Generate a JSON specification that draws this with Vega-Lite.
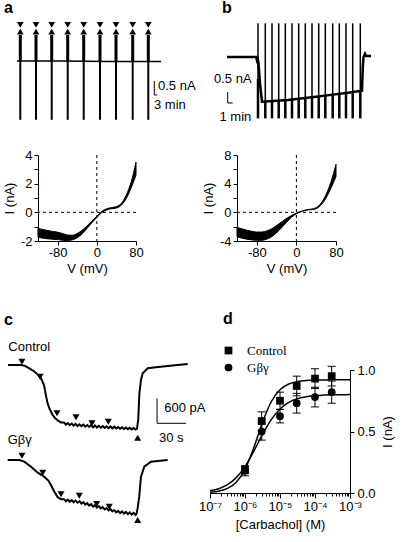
{
"$schema": "https://vega.github.io/schema/vega-lite/v6.json",
"background": "white",
"padding": {"left": 3, "top": 0, "right": 2, "bottom": 2},
"config": {
  "view": {"stroke": null},
  "font": "Liberation Sans",
  "title": {"font": "Liberation Sans", "fontSize": 16, "fontWeight": "bold", "anchor": "start", "color": "black", "frame": "group"},
  "axis": {"labelFont": "Liberation Sans", "labelFontSize": 13, "labelColor": "black", "titleFont": "Liberation Sans", "titleFontSize": 13, "titleFontWeight": "normal", "titleColor": "black", "domainColor": "black", "tickColor": "black", "grid": false, "tickSize": 4},
  "text": {"font": "Liberation Sans", "color": "black"}
},
"datasets": {
  "aBase": [{"t": 1, "I": 0}, {"t": 50, "I": 0}, {"t": 90, "I": -0.02}, {"t": 145, "I": -0.02}],
  "aSpikes": [
    {"t": 4.3, "hi": 0.93, "lo": -2.1, "mkDown": 1.29, "mkUp": 1.05},
    {"t": 20, "hi": 0.93, "lo": -2.1, "mkDown": 1.29, "mkUp": 1.05},
    {"t": 35.7, "hi": 0.93, "lo": -2.1, "mkDown": 1.29, "mkUp": 1.05},
    {"t": 51.7, "hi": 0.93, "lo": -2.1, "mkDown": 1.29, "mkUp": 1.05},
    {"t": 67.7, "hi": 0.93, "lo": -2.1, "mkDown": 1.29, "mkUp": 1.05},
    {"t": 84, "hi": 0.93, "lo": -2.1, "mkDown": 1.29, "mkUp": 1.05},
    {"t": 100, "hi": 0.93, "lo": -2.1, "mkDown": 1.29, "mkUp": 1.05},
    {"t": 116.7, "hi": 0.93, "lo": -2.1, "mkDown": 1.29, "mkUp": 1.05},
    {"t": 132.3, "hi": 0.93, "lo": -2.1, "mkDown": 1.29, "mkUp": 1.05}
  ],
  "aBar": [{"t": 138.3, "t2": 138.3, "I": -0.714, "I2": -1.214}, {"t": 138.3, "t2": 141.3, "I": -1.214, "I2": -1.214}],
  "aText": [{"t": 142, "I": -0.9, "label": "0.5 nA"}, {"t": 138, "I": -1.56, "label": "3 min"}],
  "bTrace": [
    {"t": 2.8, "I": 0}, {"t": 8.6, "I": 0}, {"t": 8.75, "I": -0.12}, {"t": 8.9, "I": 0}, {"t": 9.1, "I": -0.3},
    {"t": 9.4, "I": -1.2}, {"t": 9.8, "I": -2.03}, {"t": 12, "I": -2.0}, {"t": 15, "I": -1.95}, {"t": 18, "I": -1.88},
    {"t": 21, "I": -1.8}, {"t": 24, "I": -1.71}, {"t": 27, "I": -1.62}, {"t": 29.8, "I": -1.53}, {"t": 29.95, "I": -0.5},
    {"t": 30.1, "I": 0}, {"t": 30.4, "I": 0.15}, {"t": 30.6, "I": 0.05}, {"t": 31.6, "I": 0.05}
  ],
  "bSpikes": [
    {"t": 9.0, "base": -1.0, "hi": 1.53, "lo": -2.79},
    {"t": 10.46, "base": -2.0, "hi": 1.53, "lo": -2.79},
    {"t": 11.8, "base": -2.0, "hi": 1.53, "lo": -2.79},
    {"t": 13.14, "base": -1.98, "hi": 1.53, "lo": -2.79},
    {"t": 14.46, "base": -1.96, "hi": 1.53, "lo": -2.79},
    {"t": 15.8, "base": -1.93, "hi": 1.53, "lo": -2.79},
    {"t": 17.14, "base": -1.9, "hi": 1.53, "lo": -2.79},
    {"t": 18.46, "base": -1.87, "hi": 1.53, "lo": -2.79},
    {"t": 19.8, "base": -1.83, "hi": 1.53, "lo": -2.79},
    {"t": 21.14, "base": -1.8, "hi": 1.53, "lo": -2.79},
    {"t": 22.46, "base": -1.76, "hi": 1.53, "lo": -2.79},
    {"t": 23.94, "base": -1.72, "hi": 1.53, "lo": -2.79},
    {"t": 25.26, "base": -1.67, "hi": 1.53, "lo": -2.79},
    {"t": 26.6, "base": -1.63, "hi": 1.53, "lo": -2.79},
    {"t": 27.94, "base": -1.59, "hi": 1.53, "lo": -2.79},
    {"t": 29.46, "base": -1.54, "hi": 1.53, "lo": -2.79}
  ],
  "bBar": [{"t": 2.94, "t2": 2.94, "I": -1.59, "I2": -2.09}, {"t": 2.94, "t2": 3.94, "I": -2.09, "I2": -2.09}],
  "bText": [{"t": 3.96, "I": -1.02, "label": "0.5 nA"}, {"t": 4.47, "I": -2.71, "label": "1 min"}],
  "ivA": [
    {"V": -120, "lo": -1.75, "hi": -1.12}, {"V": -110, "lo": -1.8, "hi": -1.2}, {"V": -100, "lo": -1.85, "hi": -1.27},
    {"V": -90, "lo": -1.88, "hi": -1.33}, {"V": -80, "lo": -1.9, "hi": -1.38}, {"V": -70, "lo": -1.95, "hi": -1.48},
    {"V": -60, "lo": -1.97, "hi": -1.58}, {"V": -50, "lo": -1.92, "hi": -1.6}, {"V": -40, "lo": -1.78, "hi": -1.48},
    {"V": -30, "lo": -1.5, "hi": -1.25}, {"V": -20, "lo": -1.12, "hi": -0.95}, {"V": -10, "lo": -0.72, "hi": -0.6},
    {"V": 0, "lo": -0.36, "hi": -0.28}, {"V": 10, "lo": -0.02, "hi": 0.06}, {"V": 20, "lo": 0.17, "hi": 0.25},
    {"V": 30, "lo": 0.25, "hi": 0.33}, {"V": 40, "lo": 0.3, "hi": 0.4}, {"V": 50, "lo": 0.5, "hi": 0.62},
    {"V": 60, "lo": 0.95, "hi": 1.2}, {"V": 70, "lo": 1.7, "hi": 2.1}, {"V": 80, "lo": 2.6, "hi": 3.5}
  ],
  "ivB": [
    {"V": -120, "lo": -3.4, "hi": -2.1}, {"V": -110, "lo": -3.6, "hi": -2.3}, {"V": -100, "lo": -3.75, "hi": -2.5},
    {"V": -90, "lo": -3.85, "hi": -2.65}, {"V": -80, "lo": -3.9, "hi": -2.75}, {"V": -70, "lo": -3.9, "hi": -2.75},
    {"V": -60, "lo": -3.75, "hi": -2.6}, {"V": -50, "lo": -3.4, "hi": -2.3}, {"V": -40, "lo": -2.85, "hi": -1.85},
    {"V": -30, "lo": -2.15, "hi": -1.35}, {"V": -20, "lo": -1.4, "hi": -0.85}, {"V": -10, "lo": -0.7, "hi": -0.45},
    {"V": 0, "lo": -0.2, "hi": -0.1}, {"V": 10, "lo": 0.1, "hi": 0.15}, {"V": 20, "lo": 0.3, "hi": 0.35},
    {"V": 30, "lo": 0.38, "hi": 0.45}, {"V": 40, "lo": 0.5, "hi": 0.65}, {"V": 50, "lo": 1.05, "hi": 1.3},
    {"V": 60, "lo": 2.0, "hi": 2.5}, {"V": 70, "lo": 3.4, "hi": 4.3}, {"V": 80, "lo": 5.0, "hi": 6.7}
  ],
  "zeroV": [{"V": 0}],
  "zeroI": [{"I": 0}],
  "cCtrl": [
    {"t": 2.1, "I": 0}, {"t": 15.5, "I": 0}, {"t": 19.6, "I": -20}, {"t": 24.1, "I": -79}, {"t": 29, "I": -150},
    {"t": 33, "I": -230}, {"t": 36.2, "I": -319}, {"t": 39.3, "I": -480}, {"t": 41.4, "I": -740}, {"t": 43, "I": -920},
    {"t": 44.8, "I": -1039}, {"t": 48.3, "I": -1200}, {"t": 51, "I": -1280}, {"t": 53.5, "I": -1330}, {"t": 57, "I": -1380},
    {"t": 60, "I": -1380}, {"t": 62, "I": -1430}, {"t": 64, "I": -1395}, {"t": 66, "I": -1445}, {"t": 68, "I": -1405},
    {"t": 70, "I": -1455}, {"t": 72, "I": -1415}, {"t": 74, "I": -1465}, {"t": 76, "I": -1425}, {"t": 78, "I": -1470},
    {"t": 80, "I": -1430}, {"t": 82, "I": -1480}, {"t": 84, "I": -1440}, {"t": 86, "I": -1485}, {"t": 88, "I": -1445},
    {"t": 90, "I": -1495}, {"t": 92, "I": -1450}, {"t": 94, "I": -1500}, {"t": 96, "I": -1460}, {"t": 98, "I": -1505},
    {"t": 100, "I": -1465}, {"t": 102, "I": -1510}, {"t": 104, "I": -1470}, {"t": 106, "I": -1515}, {"t": 108, "I": -1475},
    {"t": 110, "I": -1520}, {"t": 112, "I": -1480}, {"t": 114, "I": -1525}, {"t": 116, "I": -1490}, {"t": 118, "I": -1530},
    {"t": 120, "I": -1495}, {"t": 122, "I": -1535}, {"t": 124, "I": -1500}, {"t": 126, "I": -1540}, {"t": 128, "I": -1505},
    {"t": 130, "I": -1545}, {"t": 132, "I": -1510}, {"t": 134, "I": -1550}, {"t": 135.5, "I": -1530},
    {"t": 136.8, "I": -1300}, {"t": 137.9, "I": -700}, {"t": 139.6, "I": -360}, {"t": 141.4, "I": -199},
    {"t": 146.5, "I": -79}, {"t": 155, "I": -55}, {"t": 167.2, "I": -24}, {"t": 187.9, "I": 24}
  ],
  "cGbg": [
    {"t": 1.8, "I": 0}, {"t": 13.8, "I": 0}, {"t": 18.9, "I": -40}, {"t": 25.9, "I": -160}, {"t": 32.8, "I": -305},
    {"t": 39.6, "I": -401}, {"t": 44, "I": -500}, {"t": 46.5, "I": -600}, {"t": 50, "I": -760}, {"t": 53.5, "I": -895},
    {"t": 57, "I": -940}, {"t": 60, "I": -940}, {"t": 62, "I": -990}, {"t": 64, "I": -950}, {"t": 66, "I": -1002},
    {"t": 68, "I": -962}, {"t": 70, "I": -1014}, {"t": 72, "I": -973}, {"t": 74, "I": -1025}, {"t": 76, "I": -990},
    {"t": 78, "I": -1048}, {"t": 80, "I": -1013}, {"t": 82, "I": -1071}, {"t": 84, "I": -1036}, {"t": 86, "I": -1094},
    {"t": 88, "I": -1059}, {"t": 90, "I": -1117}, {"t": 92, "I": -1082}, {"t": 94, "I": -1140}, {"t": 96, "I": -1105},
    {"t": 98, "I": -1163}, {"t": 100, "I": -1129}, {"t": 102, "I": -1187}, {"t": 104, "I": -1153}, {"t": 106, "I": -1211},
    {"t": 108, "I": -1177}, {"t": 110, "I": -1235}, {"t": 112, "I": -1201}, {"t": 114, "I": -1259}, {"t": 116, "I": -1222},
    {"t": 118, "I": -1274}, {"t": 120, "I": -1234}, {"t": 122, "I": -1286}, {"t": 124, "I": -1246}, {"t": 126, "I": -1297},
    {"t": 128, "I": -1257}, {"t": 130, "I": -1309}, {"t": 132, "I": -1268}, {"t": 134, "I": -1320}, {"t": 135, "I": -1290},
    {"t": 136.2, "I": -1150}, {"t": 137.8, "I": -880}, {"t": 139.6, "I": -401}, {"t": 143, "I": -161},
    {"t": 149.9, "I": -41}, {"t": 167.2, "I": 0}
  ],
  "cCtrlTri": [
    {"t": 16.5, "I": 79, "dir": "down"}, {"t": 35.2, "I": -281, "dir": "down"}, {"t": 52.7, "I": -1159, "dir": "down"},
    {"t": 72.4, "I": -1255, "dir": "down"}, {"t": 88.9, "I": -1399, "dir": "down"}, {"t": 105.8, "I": -1361, "dir": "down"},
    {"t": 136.2, "I": -1745, "dir": "up"}
  ],
  "cGbgTri": [
    {"t": 16.5, "I": 103, "dir": "down"}, {"t": 38.0, "I": -305, "dir": "down"}, {"t": 56.9, "I": -823, "dir": "down"},
    {"t": 75.8, "I": -857, "dir": "down"}, {"t": 93.8, "I": -1056, "dir": "down"}, {"t": 106.8, "I": -1121, "dir": "down"},
    {"t": 136.2, "I": -1440, "dir": "up"}
  ],
  "cBar": [{"t": 156.2, "t2": 156.2, "I": -799, "I2": -1399}, {"t": 156.2, "t2": 186.2, "I": -1399, "I2": -1399}],
  "cTextCtrl": [{"t": 163.7, "I": -1032, "label": "600 pA"}, {"t": 158.2, "I": -1740, "label": "30 s"}, {"t": 2.4, "I": 440, "label": "Control"}],
  "cTextGbg": [{"t": 1.8, "I": 480, "label": "Gβγ"}],
  "dFit": [
    {"conc": 1e-7, "I": 0.006, "group": "Control"}, {"conc": 1.778e-7, "I": 0.015, "group": "Control"},
    {"conc": 3.162e-7, "I": 0.037, "group": "Control"}, {"conc": 5.623e-7, "I": 0.087, "group": "Control"},
    {"conc": 1e-6, "I": 0.192, "group": "Control"}, {"conc": 1.778e-6, "I": 0.367, "group": "Control"},
    {"conc": 3.162e-6, "I": 0.575, "group": "Control"}, {"conc": 5.623e-6, "I": 0.742, "group": "Control"},
    {"conc": 1e-5, "I": 0.84, "group": "Control"}, {"conc": 1.778e-5, "I": 0.886, "group": "Control"},
    {"conc": 3.162e-5, "I": 0.906, "group": "Control"}, {"conc": 5.623e-5, "I": 0.915, "group": "Control"},
    {"conc": 1e-4, "I": 0.918, "group": "Control"}, {"conc": 1.778e-4, "I": 0.919, "group": "Control"},
    {"conc": 3.162e-4, "I": 0.92, "group": "Control"}, {"conc": 5.623e-4, "I": 0.92, "group": "Control"},
    {"conc": 1e-3, "I": 0.92, "group": "Control"},
    {"conc": 1e-7, "I": 0.018, "group": "Gβγ"}, {"conc": 1.778e-7, "I": 0.035, "group": "Gβγ"},
    {"conc": 3.162e-7, "I": 0.068, "group": "Gβγ"}, {"conc": 5.623e-7, "I": 0.125, "group": "Gβγ"},
    {"conc": 1e-6, "I": 0.215, "group": "Gβγ"}, {"conc": 1.778e-6, "I": 0.339, "group": "Gβγ"},
    {"conc": 3.162e-6, "I": 0.476, "group": "Gβγ"}, {"conc": 5.623e-6, "I": 0.596, "group": "Gβγ"},
    {"conc": 1e-5, "I": 0.683, "group": "Gβγ"}, {"conc": 1.778e-5, "I": 0.737, "group": "Gβγ"},
    {"conc": 3.162e-5, "I": 0.767, "group": "Gβγ"}, {"conc": 5.623e-5, "I": 0.783, "group": "Gβγ"},
    {"conc": 1e-4, "I": 0.792, "group": "Gβγ"}, {"conc": 1.778e-4, "I": 0.796, "group": "Gβγ"},
    {"conc": 3.162e-4, "I": 0.798, "group": "Gβγ"}, {"conc": 5.623e-4, "I": 0.799, "group": "Gβγ"},
    {"conc": 1e-3, "I": 0.8, "group": "Gβγ"}
  ],
  "dPts": [
    {"conc": 1e-6, "resp": 0.19, "lo": 0.16, "hi": 0.22, "group": "Control"},
    {"conc": 3e-6, "resp": 0.585, "lo": 0.51, "hi": 0.66, "group": "Control"},
    {"conc": 1e-5, "resp": 0.75, "lo": 0.68, "hi": 0.82, "group": "Control"},
    {"conc": 3e-5, "resp": 0.87, "lo": 0.79, "hi": 0.95, "group": "Control"},
    {"conc": 1e-4, "resp": 0.93, "lo": 0.85, "hi": 1.01, "group": "Control"},
    {"conc": 3e-4, "resp": 0.95, "lo": 0.87, "hi": 1.03, "group": "Control"},
    {"conc": 1e-6, "resp": 0.18, "lo": 0.14, "hi": 0.22, "group": "Gβγ"},
    {"conc": 3e-6, "resp": 0.5, "lo": 0.43, "hi": 0.57, "group": "Gβγ"},
    {"conc": 1e-5, "resp": 0.625, "lo": 0.57, "hi": 0.68, "group": "Gβγ"},
    {"conc": 3e-5, "resp": 0.73, "lo": 0.65, "hi": 0.81, "group": "Gβγ"},
    {"conc": 1e-4, "resp": 0.78, "lo": 0.7, "hi": 0.86, "group": "Gβγ"},
    {"conc": 3e-4, "resp": 0.82, "lo": 0.73, "hi": 0.91, "group": "Gβγ"}
  ]
},
"spacing": 36,
"vconcat": [
 {
  "spacing": 24,
  "vconcat": [
   {
    "spacing": 12,
    "hconcat": [
     {
      "width": 163, "height": 107,
      "title": {"text": "a", "dx": -34, "offset": 2},
      "layer": [
       {"data": {"name": "aBase"}, "mark": {"type": "line", "color": "black", "strokeWidth": 1.5},
        "encoding": {"x": {"field": "t", "type": "quantitative", "scale": {"domain": [22, 185], "nice": false, "zero": false}, "axis": null},
                     "y": {"field": "I", "type": "quantitative", "scale": {"domain": [-2.286, 1.536], "nice": false, "zero": false}, "axis": null}}},
       {"data": {"name": "aSpikes"}, "mark": {"type": "rule", "color": "black", "strokeWidth": 3},
        "encoding": {"x": {"field": "t", "type": "quantitative", "scale": {"domain": [22, 185], "nice": false, "zero": false}, "axis": null},
                     "y": {"field": "hi", "type": "quantitative", "scale": {"domain": [-2.286, 1.536], "nice": false, "zero": false}, "axis": null},
                     "y2": {"datum": 0}}},
       {"data": {"name": "aSpikes"}, "mark": {"type": "rule", "color": "black", "strokeWidth": 2},
        "encoding": {"x": {"field": "t", "type": "quantitative", "scale": {"domain": [22, 185], "nice": false, "zero": false}, "axis": null},
                     "y": {"field": "lo", "type": "quantitative", "scale": {"domain": [-2.286, 1.536], "nice": false, "zero": false}, "axis": null},
                     "y2": {"datum": 0}}},
       {"data": {"name": "aSpikes"}, "mark": {"type": "point", "shape": "triangle-down", "filled": true, "opacity": 1, "size": 45, "color": "black"},
        "encoding": {"x": {"field": "t", "type": "quantitative", "scale": {"domain": [22, 185], "nice": false, "zero": false}, "axis": null},
                     "y": {"field": "mkDown", "type": "quantitative", "scale": {"domain": [-2.286, 1.536], "nice": false, "zero": false}, "axis": null}}},
       {"data": {"name": "aSpikes"}, "mark": {"type": "point", "shape": "triangle-up", "filled": true, "opacity": 1, "size": 45, "color": "black"},
        "encoding": {"x": {"field": "t", "type": "quantitative", "scale": {"domain": [22, 185], "nice": false, "zero": false}, "axis": null},
                     "y": {"field": "mkUp", "type": "quantitative", "scale": {"domain": [-2.286, 1.536], "nice": false, "zero": false}, "axis": null}}},
       {"data": {"name": "aBar"}, "mark": {"type": "rule", "color": "black", "strokeWidth": 1},
        "encoding": {"x": {"field": "t", "type": "quantitative", "scale": {"domain": [22, 185], "nice": false, "zero": false}, "axis": null},
                     "x2": {"field": "t2"},
                     "y": {"field": "I", "type": "quantitative", "scale": {"domain": [-2.286, 1.536], "nice": false, "zero": false}, "axis": null},
                     "y2": {"field": "I2"}}},
       {"data": {"name": "aText"}, "mark": {"type": "text", "align": "left", "baseline": "middle", "fontSize": 13, "color": "black"},
        "encoding": {"x": {"field": "t", "type": "quantitative", "scale": {"domain": [22, 185], "nice": false, "zero": false}, "axis": null},
                     "y": {"field": "I", "type": "quantitative", "scale": {"domain": [-2.286, 1.536], "nice": false, "zero": false}, "axis": null},
                     "text": {"field": "label"}}}
      ]
     },
     {
      "width": 162, "height": 107,
      "title": {"text": "b", "dx": 9, "offset": 2},
      "layer": [
       {"data": {"name": "bTrace"}, "mark": {"type": "line", "color": "black", "strokeWidth": 2.5},
        "encoding": {"x": {"field": "t", "type": "quantitative", "scale": {"domain": [0, 32.4], "nice": false, "zero": false}, "axis": null},
                     "y": {"field": "I", "type": "quantitative", "scale": {"domain": [-3.091, 1.773], "nice": false, "zero": false}, "axis": null}}},
       {"data": {"name": "bSpikes"}, "mark": {"type": "rule", "color": "black", "strokeWidth": 1.5},
        "encoding": {"x": {"field": "t", "type": "quantitative", "scale": {"domain": [0, 32.4], "nice": false, "zero": false}, "axis": null},
                     "y": {"field": "hi", "type": "quantitative", "scale": {"domain": [-3.091, 1.773], "nice": false, "zero": false}, "axis": null},
                     "y2": {"field": "base"}}},
       {"data": {"name": "bSpikes"}, "mark": {"type": "rule", "color": "black", "strokeWidth": 2.5},
        "encoding": {"x": {"field": "t", "type": "quantitative", "scale": {"domain": [0, 32.4], "nice": false, "zero": false}, "axis": null},
                     "y": {"field": "lo", "type": "quantitative", "scale": {"domain": [-3.091, 1.773], "nice": false, "zero": false}, "axis": null},
                     "y2": {"field": "base"}}},
       {"data": {"name": "bBar"}, "mark": {"type": "rule", "color": "black", "strokeWidth": 1},
        "encoding": {"x": {"field": "t", "type": "quantitative", "scale": {"domain": [0, 32.4], "nice": false, "zero": false}, "axis": null},
                     "x2": {"field": "t2"},
                     "y": {"field": "I", "type": "quantitative", "scale": {"domain": [-3.091, 1.773], "nice": false, "zero": false}, "axis": null},
                     "y2": {"field": "I2"}}},
       {"data": {"name": "bText"}, "mark": {"type": "text", "align": "center", "baseline": "middle", "fontSize": 13, "color": "black"},
        "encoding": {"x": {"field": "t", "type": "quantitative", "scale": {"domain": [0, 32.4], "nice": false, "zero": false}, "axis": null},
                     "y": {"field": "I", "type": "quantitative", "scale": {"domain": [-3.091, 1.773], "nice": false, "zero": false}, "axis": null},
                     "text": {"field": "label"}}}
      ]
     }
    ]
   },
   {
    "spacing": 58,
    "hconcat": [
     {
      "width": 98, "height": 86,
      "layer": [
       {"data": {"name": "ivA"}, "mark": {"type": "area", "color": "black", "interpolate": "monotone", "stroke": "black", "strokeWidth": 1},
        "encoding": {"x": {"field": "V", "type": "quantitative", "title": "V (mV)", "scale": {"domain": [-120, 80], "nice": false, "zero": false},
                           "axis": {"values": [-80, 0, 80], "labelExpr": "replace(datum.label, '−', '-')", "labelFlush": false, "labelOverlap": false, "labelPadding": 1, "titlePadding": 3}},
                     "y": {"field": "hi", "type": "quantitative", "title": "I (nA)", "scale": {"domain": [-2, 4], "nice": false, "zero": false},
                           "axis": {"tickCount": 6, "labelExpr": "datum.value % 2 == 0 ? replace(datum.label, '−', '-') : ''", "labelPadding": 2, "titlePadding": 4}},
                     "y2": {"field": "lo"}}},
       {"data": {"name": "zeroV"}, "mark": {"type": "rule", "color": "black", "strokeWidth": 1, "strokeDash": [3, 3]},
        "encoding": {"x": {"field": "V", "type": "quantitative", "title": "V (mV)", "scale": {"domain": [-120, 80], "nice": false, "zero": false}}}},
       {"data": {"name": "zeroI"}, "mark": {"type": "rule", "color": "black", "strokeWidth": 1, "strokeDash": [3, 3]},
        "encoding": {"y": {"field": "I", "type": "quantitative", "title": "I (nA)", "scale": {"domain": [-2, 4], "nice": false, "zero": false}}}}
      ]
     },
     {
      "width": 99, "height": 86,
      "layer": [
       {"data": {"name": "ivB"}, "mark": {"type": "area", "color": "black", "interpolate": "monotone", "stroke": "black", "strokeWidth": 1},
        "encoding": {"x": {"field": "V", "type": "quantitative", "title": "V (mV)", "scale": {"domain": [-120, 80], "nice": false, "zero": false},
                           "axis": {"values": [-80, 0, 80], "labelExpr": "replace(datum.label, '−', '-')", "labelFlush": false, "labelOverlap": false, "labelPadding": 1, "titlePadding": 3}},
                     "y": {"field": "hi", "type": "quantitative", "title": "I (nA)", "scale": {"domain": [-4, 8], "nice": false, "zero": false},
                           "axis": {"tickCount": 6, "labelExpr": "datum.value % 4 == 0 ? replace(datum.label, '−', '-') : ''", "labelPadding": 2, "titlePadding": 4}},
                     "y2": {"field": "lo"}}},
       {"data": {"name": "zeroV"}, "mark": {"type": "rule", "color": "black", "strokeWidth": 1, "strokeDash": [3, 3]},
        "encoding": {"x": {"field": "V", "type": "quantitative", "title": "V (mV)", "scale": {"domain": [-120, 80], "nice": false, "zero": false}}}},
       {"data": {"name": "zeroI"}, "mark": {"type": "rule", "color": "black", "strokeWidth": 1, "strokeDash": [3, 3]},
        "encoding": {"y": {"field": "I", "type": "quantitative", "title": "I (nA)", "scale": {"domain": [-4, 8], "nice": false, "zero": false}}}}
      ]
     }
    ]
   }
  ]
 },
 {
  "spacing": -8,
  "resolve": {"scale": {"shape": "independent"}, "legend": {"shape": "independent"}},
  "hconcat": [
   {
    "width": 158, "height": 160,
    "title": {"text": "c", "dx": -34, "offset": 13},
    "resolve": {"scale": {"y": "independent"}},
    "layer": [
     {
      "layer": [
       {"data": {"name": "cCtrl"}, "mark": {"type": "line", "color": "black", "strokeWidth": 2},
        "encoding": {"x": {"field": "t", "type": "quantitative", "scale": {"domain": [33.1, 196.5], "nice": false, "zero": false}, "axis": null},
                     "y": {"field": "I", "type": "quantitative", "scale": {"domain": [-3960, -120], "nice": false, "zero": false}, "axis": null}}},
       {"data": {"name": "cCtrlTri"}, "mark": {"type": "point", "filled": true, "opacity": 1, "size": 50, "color": "black"},
        "encoding": {"x": {"field": "t", "type": "quantitative", "scale": {"domain": [33.1, 196.5], "nice": false, "zero": false}, "axis": null},
                     "y": {"field": "I", "type": "quantitative", "scale": {"domain": [-3960, -120], "nice": false, "zero": false}, "axis": null},
                     "shape": {"field": "dir", "type": "nominal", "scale": {"domain": ["down", "up"], "range": ["triangle-down", "triangle-up"]}, "legend": null}}},
       {"data": {"name": "cBar"}, "mark": {"type": "rule", "color": "black", "strokeWidth": 1},
        "encoding": {"x": {"field": "t", "type": "quantitative", "scale": {"domain": [33.1, 196.5], "nice": false, "zero": false}, "axis": null},
                     "x2": {"field": "t2"},
                     "y": {"field": "I", "type": "quantitative", "scale": {"domain": [-3960, -120], "nice": false, "zero": false}, "axis": null},
                     "y2": {"field": "I2"}}},
       {"data": {"name": "cTextCtrl"}, "mark": {"type": "text", "align": "left", "baseline": "middle", "fontSize": 13, "color": "black"},
        "encoding": {"x": {"field": "t", "type": "quantitative", "scale": {"domain": [33.1, 196.5], "nice": false, "zero": false}, "axis": null},
                     "y": {"field": "I", "type": "quantitative", "scale": {"domain": [-3960, -120], "nice": false, "zero": false}, "axis": null},
                     "text": {"field": "label"}}}
      ]
     },
     {
      "layer": [
       {"data": {"name": "cGbg"}, "mark": {"type": "line", "color": "black", "strokeWidth": 2},
        "encoding": {"x": {"field": "t", "type": "quantitative", "scale": {"domain": [33.1, 196.5], "nice": false, "zero": false}, "axis": null},
                     "y": {"field": "I", "type": "quantitative", "scale": {"domain": [-1680, 2160], "nice": false, "zero": false}, "axis": null}}},
       {"data": {"name": "cGbgTri"}, "mark": {"type": "point", "filled": true, "opacity": 1, "size": 50, "color": "black"},
        "encoding": {"x": {"field": "t", "type": "quantitative", "scale": {"domain": [33.1, 196.5], "nice": false, "zero": false}, "axis": null},
                     "y": {"field": "I", "type": "quantitative", "scale": {"domain": [-1680, 2160], "nice": false, "zero": false}, "axis": null},
                     "shape": {"field": "dir", "type": "nominal", "scale": {"domain": ["down", "up"], "range": ["triangle-down", "triangle-up"]}, "legend": null}}},
       {"data": {"name": "cTextGbg"}, "mark": {"type": "text", "align": "left", "baseline": "middle", "fontSize": 13, "color": "black"},
        "encoding": {"x": {"field": "t", "type": "quantitative", "scale": {"domain": [33.1, 196.5], "nice": false, "zero": false}, "axis": null},
                     "y": {"field": "I", "type": "quantitative", "scale": {"domain": [-1680, 2160], "nice": false, "zero": false}, "axis": null},
                     "text": {"field": "label"}}}
      ]
     }
    ]
   },
   {
    "width": 140, "height": 123,
    "title": {"text": "d", "dx": 13, "offset": 17},
    "layer": [
     {"data": {"name": "dFit"}, "mark": {"type": "line", "color": "black", "strokeWidth": 1.5, "interpolate": "monotone"},
      "encoding": {"x": {"field": "conc", "type": "quantitative", "title": "[Carbachol] (M)", "scale": {"type": "log", "domain": [1e-7, 1e-3], "nice": false},
                         "axis": {"values": [1e-7, 2e-7, 3e-7, 4e-7, 5e-7, 6e-7, 7e-7, 8e-7, 9e-7, 1e-6, 2e-6, 3e-6, 4e-6, 5e-6, 6e-6, 7e-6, 8e-6, 9e-6, 1e-5, 2e-5, 3e-5, 4e-5, 5e-5, 6e-5, 7e-5, 8e-5, 9e-5, 1e-4, 2e-4, 3e-4, 4e-4, 5e-4, 6e-4, 7e-4, 8e-4, 9e-4, 1e-3],
                                  "labelExpr": "datum.value == 1e-7 ? '10⁻⁷' : datum.value == 0.000001 ? '10⁻⁶' : datum.value == 0.00001 ? '10⁻⁵' : datum.value == 0.0001 ? '10⁻⁴' : datum.value == 0.001 ? '10⁻³' : ''",
                                  "tickSize": {"condition": {"test": "datum.value == 1e-7 || datum.value == 0.000001 || datum.value == 0.00001 || datum.value == 0.0001 || datum.value == 0.001", "value": 5}, "value": 3},
                                  "labelFlush": false, "labelOverlap": false, "labelPadding": 2, "titlePadding": 5}},
                   "y": {"field": "I", "type": "quantitative", "title": "I (nA)", "scale": {"domain": [0, 1], "nice": false, "zero": false},
                         "axis": {"orient": "right", "values": [0, 0.25, 0.5, 0.75, 1], "labelExpr": "datum.value == 0 ? '0.0' : datum.value == 0.5 ? '0.5' : datum.value == 1 ? '1.0' : ''", "titleAngle": 270, "titleBaseline": "top", "titlePadding": 6, "labelPadding": 3}},
                   "detail": {"field": "group", "type": "nominal"}}},
     {"data": {"name": "dPts"}, "mark": {"type": "rule", "color": "black", "strokeWidth": 1},
      "encoding": {"x": {"field": "conc", "type": "quantitative", "title": "[Carbachol] (M)", "scale": {"type": "log", "domain": [1e-7, 1e-3], "nice": false}},
                   "y": {"field": "lo", "type": "quantitative", "title": "I (nA)", "scale": {"domain": [0, 1], "nice": false, "zero": false}},
                   "y2": {"field": "hi"}}},
     {"data": {"name": "dPts"}, "mark": {"type": "tick", "color": "black", "orient": "horizontal", "size": 8, "thickness": 1, "opacity": 1},
      "encoding": {"x": {"field": "conc", "type": "quantitative", "title": "[Carbachol] (M)", "scale": {"type": "log", "domain": [1e-7, 1e-3], "nice": false}},
                   "y": {"field": "lo", "type": "quantitative", "title": "I (nA)", "scale": {"domain": [0, 1], "nice": false, "zero": false}}}},
     {"data": {"name": "dPts"}, "mark": {"type": "tick", "color": "black", "orient": "horizontal", "size": 8, "thickness": 1, "opacity": 1},
      "encoding": {"x": {"field": "conc", "type": "quantitative", "title": "[Carbachol] (M)", "scale": {"type": "log", "domain": [1e-7, 1e-3], "nice": false}},
                   "y": {"field": "hi", "type": "quantitative", "title": "I (nA)", "scale": {"domain": [0, 1], "nice": false, "zero": false}}}},
     {"data": {"name": "dPts"}, "mark": {"type": "point", "filled": true, "opacity": 1, "size": 60, "color": "black"},
      "encoding": {"x": {"field": "conc", "type": "quantitative", "title": "[Carbachol] (M)", "scale": {"type": "log", "domain": [1e-7, 1e-3], "nice": false}},
                   "y": {"field": "resp", "type": "quantitative", "title": "I (nA)", "scale": {"domain": [0, 1], "nice": false, "zero": false}},
                   "shape": {"field": "group", "type": "nominal", "scale": {"domain": ["Control", "Gβγ"], "range": ["square", "circle"]},
                             "legend": {"orient": "none", "legendX": 12, "legendY": -26, "title": null, "labelFont": "Liberation Serif", "labelFontSize": 13, "labelColor": "black", "symbolSize": 60, "symbolFillColor": "black", "symbolStrokeColor": "black", "symbolStrokeWidth": 0, "labelOffset": 12, "rowPadding": 3, "padding": 0}}}}
    ]
   }
  ]
 }
]
}
